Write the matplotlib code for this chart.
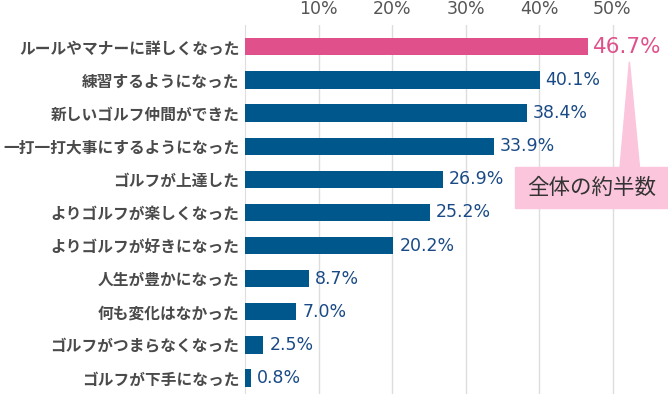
import matplotlib
matplotlib.use("Agg")
import matplotlib.pyplot as plt
from matplotlib.patches import Polygon, Rectangle

plt.rcParams['font.family'] = ['Noto Sans CJK JP', 'DejaVu Sans']

categories = ["ルールやマナーに詳しくなった", "練習するようになった", "新しいゴルフ仲間ができた",
              "一打一打大事にするようになった", "ゴルフが上達した", "よりゴルフが楽しくなった",
              "よりゴルフが好きになった", "人生が豊かになった", "何も変化はなかった",
              "ゴルフがつまらなくなった", "ゴルフが下手になった"]
values = [46.7, 40.1, 38.4, 33.9, 26.9, 25.2, 20.2, 8.7, 7.0, 2.5, 0.8]
ticks = [10, 20, 30, 40, 50]
callout_text = "全体の約半数"

pink = "#e0508a"
blue = "#00578c"
label_blue = "#1a4a86"
num_font = ["DejaVu Sans"]

fig = plt.figure(figsize=(6.68, 3.94), dpi=100)
ax = fig.add_axes([245 / 668, 0, 1 - 245 / 668, (394 - 25) / 394])

n = len(categories)
colors = [pink] + [blue] * (n - 1)
ax.barh(range(n), values, height=0.52, color=colors, zorder=3)
ax.set_ylim(n - 1 + 0.48, -0.66)
ax.set_xlim(0, 423 / 7.35)

ax.set_yticks(range(n))
ax.set_yticklabels(categories, fontsize=11.3, color="#4a4a4a", fontweight="bold")
ax.set_xticks(ticks)
ax.set_xticklabels([f"{t}%" for t in ticks], fontsize=12.5, color="#555555",
                   family=num_font)
ax.xaxis.tick_top()
ax.tick_params(axis="both", length=0)
ax.tick_params(axis="y", pad=4)
ax.tick_params(axis="x", pad=5)
ax.grid(axis="x", color="#dddddd", linewidth=1, zorder=0)
for s in ["top", "right", "bottom"]:
    ax.spines[s].set_visible(False)
ax.spines["left"].set_color("#dddddd")

for i, v in enumerate(values):
    if i == 0:
        ax.text(v + 0.6, i, f"{v}%", va="center", ha="left", fontsize=15.5,
                color=pink, family=num_font)
    else:
        ax.text(v + 0.8, i, f"{v}%", va="center", ha="left", fontsize=12.5,
                color=label_blue, family=num_font)

# callout
box_col = "#fbc6dc"
tri = Polygon([(52.3, 0.45), (51.0, 3.7), (53.7, 3.7)], closed=True,
              color=box_col, zorder=4, clip_on=False)
ax.add_patch(tri)
rect = Rectangle((36.8, 3.63), 25, 1.23, color=box_col, zorder=4, clip_on=False)
ax.add_patch(rect)
ax.text(47.2, 4.27, callout_text, ha="center", va="center", fontsize=15.5,
        color="#333333", zorder=5)

fig.savefig("out.png", dpi=100)
